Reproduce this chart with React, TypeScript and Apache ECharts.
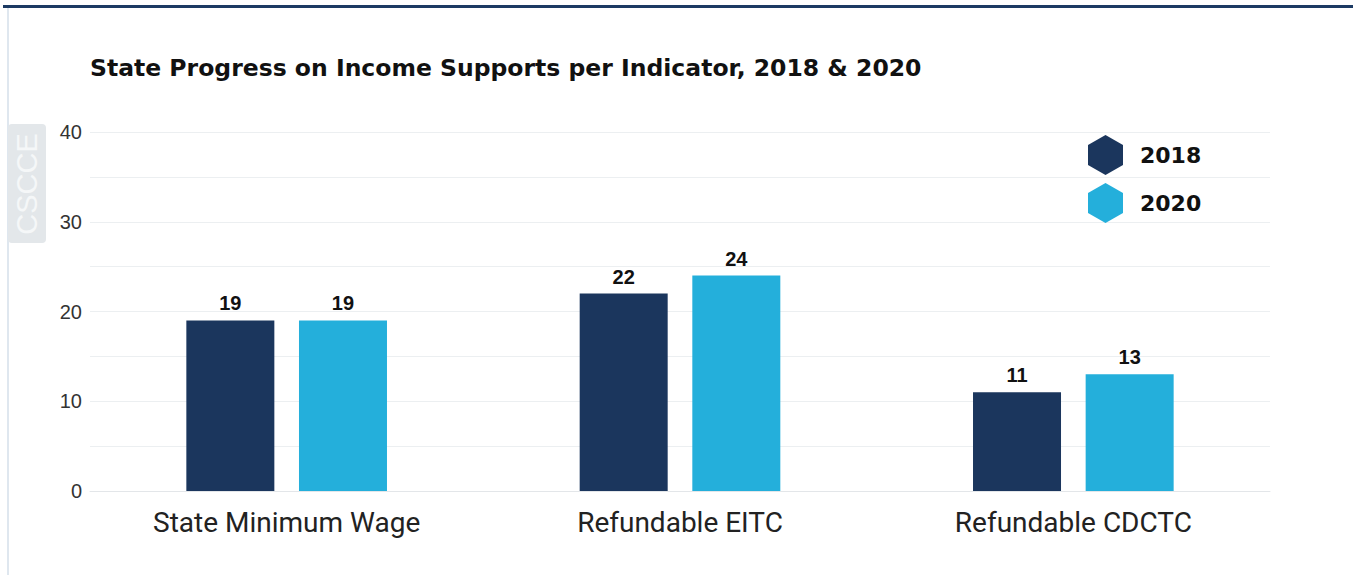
import React, { useEffect, useRef } from "react";
import * as echarts from "echarts";

const categories = ["State Minimum Wage", "Refundable EITC", "Refundable CDCTC"];
const values2018 = [19, 22, 11];
const values2020 = [19, 24, 13];
const seriesNames = ["2018", "2020"];
const colors = ["#1b365d", "#24afdb"];

const hexagon = "path://M17.5,0 L35,10 L35,30 L17.5,40 L0,30 L0,10 Z";

export default function App() {
  const ref = useRef<HTMLDivElement>(null);

  useEffect(() => {
    if (!ref.current) return;
    const chart = echarts.init(ref.current, null, { renderer: "svg" });
    const labelStyle = {
      show: true,
      position: "top" as const,
      distance: 7,
      color: "#111",
      fontWeight: "bold" as const,
      fontSize: 20,
      fontFamily: "Liberation Sans, Arial, sans-serif",
    };
    chart.setOption({
      animation: false,
      backgroundColor: "transparent",
      title: {
        text: "State Progress on Income Supports per Indicator, 2018 & 2020",
        left: 85,
        top: 51,
        textStyle: {
          fontFamily: "DejaVu Sans, sans-serif",
          fontWeight: "bold",
          fontSize: 23.5,
          color: "#111",
        },
      },
      legend: {
        orient: "vertical",
        left: 1083,
        top: 130,
        itemWidth: 35,
        itemHeight: 40,
        itemGap: 8,
        icon: hexagon,
        data: seriesNames,
        textStyle: {
          fontFamily: "DejaVu Sans, sans-serif",
          fontWeight: "bold",
          fontSize: 22,
          color: "#111",
          padding: [0, 0, 0, 12],
        },
      },
      grid: {
        left: 90,
        right: 83,
        top: 132,
        bottom: 84,
        containLabel: false,
      },
      xAxis: {
        type: "category",
        data: categories,
        axisTick: { show: false },
        axisLine: { show: true, lineStyle: { color: "#e3e6e9", width: 1 } },
        axisLabel: {
          margin: 17,
          fontSize: 28,
          color: "#222",
          fontFamily: "Roboto, Liberation Sans, sans-serif",
        },
      },
      yAxis: {
        type: "value",
        min: 0,
        max: 40,
        interval: 5,
        axisLine: { show: false },
        axisTick: { show: false },
        splitLine: { lineStyle: { color: "#eceff1", width: 1 } },
        axisLabel: {
          margin: 8,
          fontSize: 20,
          color: "#333",
          fontFamily: "Liberation Sans, Arial, sans-serif",
          formatter: (v: number) => (v % 10 === 0 ? String(v) : ""),
        },
      },
      series: [
        {
          name: seriesNames[0],
          type: "bar",
          data: values2018,
          barWidth: 88,
          barGap: "28%",
          itemStyle: { color: colors[0] },
          label: labelStyle,
        },
        {
          name: seriesNames[1],
          type: "bar",
          data: values2020,
          barWidth: 88,
          barGap: "28%",
          itemStyle: { color: colors[1] },
          label: labelStyle,
        },
      ],
      graphic: [
        {
          type: "rect",
          shape: { x: 8, y: 124, width: 38, height: 119, r: 4 },
          style: { fill: "#e3e7ea" },
          z: 10,
        },
        {
          type: "text",
          x: 27,
          y: 184,
          rotation: Math.PI / 2,
          style: {
            text: "CSCCE",
            fill: "#f5f7f8",
            fontSize: 29,
            fontFamily: "Liberation Sans, Arial, sans-serif",
            align: "center",
            verticalAlign: "middle",
          },
          z: 11,
        },
      ],
    });
    return () => chart.dispose();
  }, []);

  return (
    <div
      style={{
        position: "fixed",
        left: 0,
        top: 0,
        width: 1353,
        height: 575,
        background: "#fff",
        overflow: "hidden",
      }}
    >
      <div
        style={{
          position: "absolute",
          left: 3,
          top: 5,
          width: 1360,
          height: 3,
          background: "#1c3a63",
        }}
      />
      <div
        style={{
          position: "absolute",
          left: 7,
          top: 8,
          width: 2,
          height: 575,
          background: "#dfe7ef",
        }}
      />
      <div
        ref={ref}
        style={{ position: "absolute", left: 0, top: 0, width: 1353, height: 575 }}
      />
    </div>
  );
}
